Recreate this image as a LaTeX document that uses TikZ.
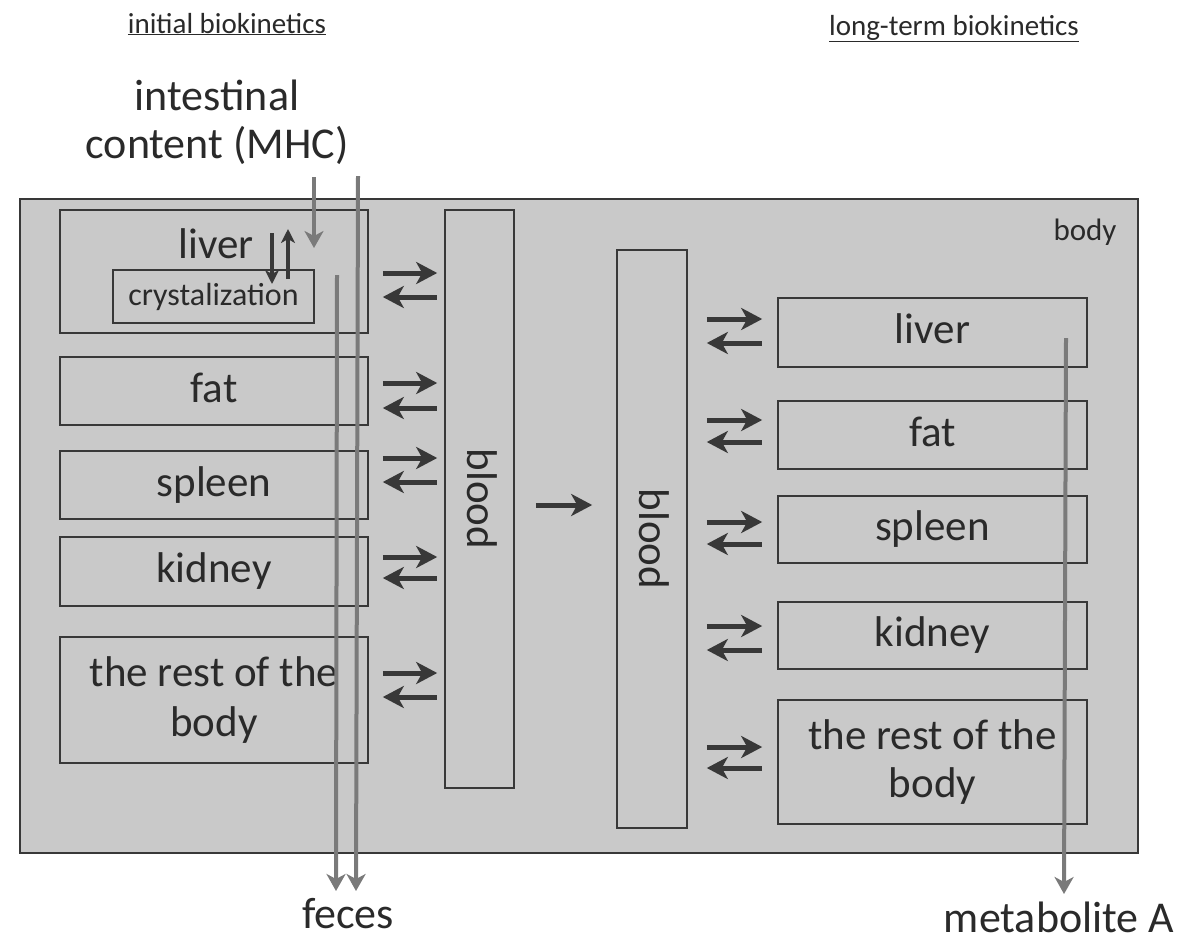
\documentclass[tikz,border=0pt]{standalone}
\usepackage{fontspec}
\setmainfont{Carlito}
\usetikzlibrary{arrows.meta}
\definecolor{bodyfill}{HTML}{C9C9C9}
\definecolor{edge}{HTML}{383838}
\definecolor{ink}{HTML}{2A2A2A}
\definecolor{flow}{HTML}{7A7A7A}
\begin{document}
\begin{tikzpicture}[x=1pt,y=-1pt,
  organ/.style={draw=edge,line width=1.6pt,fill=bodyfill,inner sep=0pt,text=ink},
  bigL/.style={font=\fontsize{43}{50}\selectfont},
  bigR/.style={font=\fontsize{43}{48}\selectfont},
  one/.style={text height=31pt,text depth=9pt},
  lbl/.style={anchor=base,inner sep=0pt,text=ink},
  ex/.style={draw=edge,line width=5pt,>={Stealth[length=21pt,width=22pt,inset=6pt]}},
  exL/.style={ex,shorten <=14pt,shorten >=7pt},
  exR/.style={ex,shorten <=19pt,shorten >=15pt},
  flowar/.style={draw=flow,line width=4pt,-{Stealth[length=17pt,width=19pt,inset=5pt]}},
  inner/.style={draw=edge,line width=4pt,>={Stealth[length=14pt,width=14pt,inset=4pt]}}
]
\useasboundingbox (0,0) rectangle (1185,943);
\fill[white] (0,0) rectangle (1185,943);

% body
\node[organ,line width=2pt,minimum width=1118pt,minimum height=654pt] (body) at (579,526) {};
\node[lbl,font=\fontsize{31}{36}\selectfont] (bodylbl) at (1085,240) {body};

% headers
\node[lbl,font=\fontsize{29}{34}\selectfont] (hinit) at (227,33) {\underline{initial biokinetics}};
\node[lbl,font=\fontsize{29}{34}\selectfont] (hlong) at (954,35) {\underline{long-term biokinetics}};

% initial compartments
\node[organ,minimum width=308pt,minimum height=123pt] (liverL) at (214,271.5) {};
\node[lbl,bigL] (liverLt) at (216,258) {liver};
\node[organ,minimum width=201pt,minimum height=53pt,font=\fontsize{32}{36}\selectfont] (crys) at (213.5,296.5) {crystalization};
\node[organ,bigL,one,minimum width=308pt,minimum height=68pt] (fatL) at (214,391) {fat};
\node[organ,bigL,one,minimum width=308pt,minimum height=68pt] (spleenL) at (214,485) {spleen};
\node[organ,bigL,one,minimum width=308pt,minimum height=69pt] (kidneyL) at (214,571.5) {kidney};
\node[organ,bigL,align=center,minimum width=308pt,minimum height=126pt] (restL) at (214,700) {the rest of the\\body};
\node[organ,minimum width=69pt,minimum height=578pt] (bloodL) at (479.5,499) {};
\node[rotate=-90,bigL,text=ink,inner sep=0pt] (bloodLt) at (482,499) {blood};

% long-term compartments
\node[organ,minimum width=70pt,minimum height=578pt] (bloodR) at (652,539) {};
\node[rotate=-90,bigL,text=ink,inner sep=0pt] (bloodRt) at (654,539) {blood};
\node[organ,bigR,one,minimum width=309pt,minimum height=69pt] (liverR) at (932.5,332.5) {liver};
\node[organ,bigR,one,minimum width=309pt,minimum height=68pt] (fatR) at (932.5,435) {fat};
\node[organ,bigR,one,minimum width=309pt,minimum height=67pt] (spleenR) at (932.5,529.5) {spleen};
\node[organ,bigR,one,minimum width=309pt,minimum height=67pt] (kidneyR) at (932.5,635.5) {kidney};
\node[organ,bigR,align=center,minimum width=309pt,minimum height=124pt] (restR) at (932.5,762) {the rest of the\\body};

% outside labels
\node[lbl,align=center,font=\fontsize{44}{48}\selectfont] (intest) at (217,158) {intestinal\\content (MHC)};
\node[lbl,font=\fontsize{44}{48}\selectfont] (feces) at (348,928) {feces};
\node[lbl,font=\fontsize{44}{48}\selectfont] (metab) at (1059,932) {metabolite A};

% exchange arrows
\foreach \o/\a/\b in {liverL/273/297, fatL/383/408, spleenL/458/482, kidneyL/557/578, restL/673/697}{
  \draw[exL,->] (\o.east |- 0,\a) -- (bloodL.west |- 0,\a);
  \draw[exL,<-] (\o.east |- 0,\b) -- (bloodL.west |- 0,\b);
}
\foreach \o/\a/\b in {liverR/319/343, fatR/420/442, spleenR/522/544, kidneyR/626/650, restR/747/768}{
  \draw[exR,->] (bloodR.east |- 0,\a) -- (\o.west |- 0,\a);
  \draw[exR,<-] (bloodR.east |- 0,\b) -- (\o.west |- 0,\b);
}
\draw[ex,->,shorten <=21pt,shorten >=24pt] (bloodL.east |- 0,505) -- (bloodR.west |- 0,505);

% liver <-> crystalization
\coordinate (dnA) at (272,233);
\coordinate (dnB) at (272,284);
\coordinate (upA) at (288,279);
\coordinate (upB) at (288,229);
\draw[inner,->] (dnA) -- (dnB);
\draw[inner,->] (upA) -- (upB);

% grey flows
\coordinate (inTop) at (314,177);
\coordinate (inTip) at (314,248);
\draw[flowar] (inTop) -- (inTip);
\coordinate (cA) at (337,275);
\coordinate (fA) at (336,891);
\coordinate (cB) at (358,176);
\coordinate (fB) at (356,891);
\draw[flowar] (cA) -- (fA);
\draw[flowar] (cB) -- (fB);
\coordinate (mTop) at (1066,338);
\coordinate (mTip) at (1064,894);
\draw[flowar] (mTop) -- (mTip);
\end{tikzpicture}
\end{document}
